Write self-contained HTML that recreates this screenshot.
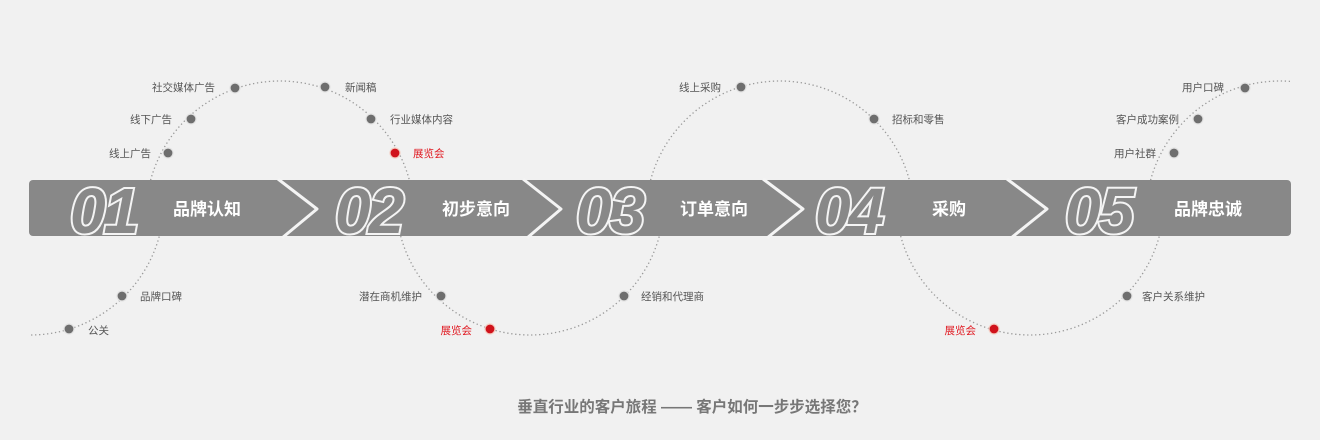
<!DOCTYPE html>
<html><head><meta charset="utf-8"><style>
html,body{margin:0;padding:0;background:#f1f1f1;}
svg{display:block;}
.l{font-family:"Liberation Sans","Noto Sans CJK SC",sans-serif;font-size:10.5px;fill:#555;}
.r{fill:#e0161e;}
.n{font-family:"Liberation Sans",sans-serif;font-weight:bold;font-style:italic;font-size:64px;fill:#888;stroke:#f4f4f4;stroke-width:4;letter-spacing:-2px;paint-order:stroke;}
.t{font-family:"Liberation Sans","Noto Sans CJK SC",sans-serif;font-weight:bold;font-size:17px;fill:#fff;}
</style></head><body>
<svg width="1320" height="440" viewBox="0 0 1320 440" xmlns="http://www.w3.org/2000/svg">
<defs>
<clipPath id="top"><rect x="0" y="0" width="1290" height="208"/></clipPath>
<clipPath id="bot"><rect x="29" y="208" width="1300" height="240"/></clipPath>
</defs>
<rect width="1320" height="440" fill="#f1f1f1"/>
<g fill="none" stroke="#999" stroke-width="1.3" stroke-dasharray="1.3 2.7">
<g clip-path="url(#top)">
<circle cx="280" cy="215" r="134"/><circle cx="780" cy="215" r="134"/><circle cx="1280" cy="215" r="134"/>
</g>
<g clip-path="url(#bot)">
<circle cx="30" cy="201" r="134"/><circle cx="530" cy="201" r="134"/><circle cx="1030" cy="201" r="134"/>
</g>
</g>
<rect x="29" y="180" width="1262" height="56" rx="4" fill="#888"/>
<g fill="none" stroke="#f4f4f4" stroke-width="3" stroke-linejoin="round">
<polyline points="278,179 317,209 282,238"/>
<polyline points="523,179 561,209 527,238"/>
<polyline points="763,179 803,209 767,238"/>
<polyline points="1007,179 1047,209 1011,238"/>
</g>
<g class="n">
<text x="70" y="233">01</text>
<text x="335" y="233">02</text>
<text x="576" y="233">03</text>
<text x="815" y="233">04</text>
<text x="1065" y="233">05</text>
</g>
<g class="t" text-anchor="middle">
<text x="207" y="215">品牌认知</text>
<text x="476" y="215">初步意向</text>
<text x="714" y="215">订单意向</text>
<text x="949" y="215">采购</text>
<text x="1208" y="215">品牌忠诚</text>
</g>
<g stroke="#e3e3e3" stroke-width="1.2" fill="#6e6e6e">
<circle cx="69" cy="329" r="5"/><circle cx="122" cy="296" r="5"/>
<circle cx="168" cy="153" r="5"/><circle cx="191" cy="119" r="5"/><circle cx="235" cy="88" r="5"/>
<circle cx="325" cy="87" r="5"/><circle cx="371" cy="119" r="5"/>
<circle cx="441" cy="296" r="5"/><circle cx="624" cy="296" r="5"/>
<circle cx="741" cy="87" r="5"/><circle cx="874" cy="119" r="5"/>
<circle cx="1127" cy="296" r="5"/><circle cx="1174" cy="153" r="5"/><circle cx="1198" cy="119" r="5"/><circle cx="1245" cy="88" r="5"/>
</g>
<g stroke="#f3cfc4" stroke-width="1.2" fill="#d0121b">
<circle cx="395" cy="153" r="5"/><circle cx="490" cy="329" r="5"/><circle cx="994" cy="329" r="5"/>
</g>
<g class="l" text-anchor="end">
<text x="215" y="91">社交媒体广告</text>
<text x="172" y="123">线下广告</text>
<text x="151" y="157">线上广告</text>
<text x="422" y="300">潜在商机维护</text>
<text class="l r" x="472" y="334">展览会</text>
<text x="721" y="91">线上采购</text>
<text class="l r" x="976" y="334">展览会</text>
<text x="1156" y="157">用户社群</text>
<text x="1179" y="123">客户成功案例</text>
<text x="1224" y="91">用户口碑</text>
</g>
<g class="l">
<text x="345" y="91">新闻稿</text>
<text x="390" y="123">行业媒体内容</text>
<text class="l r" x="413" y="157">展览会</text>
<text x="140" y="300">品牌口碑</text>
<text x="88" y="334">公关</text>
<text x="641" y="300">经销和代理商</text>
<text x="892" y="123">招标和零售</text>
<text x="1142" y="300">客户关系维护</text>
</g>
<text x="692" y="412" text-anchor="middle" font-family="Liberation Sans,Noto Sans CJK SC,sans-serif" font-weight="bold" font-size="15.5" fill="#777">垂直行业的客户旅程 —— 客户如何一步步选择您？</text>
</svg>
</body></html>
